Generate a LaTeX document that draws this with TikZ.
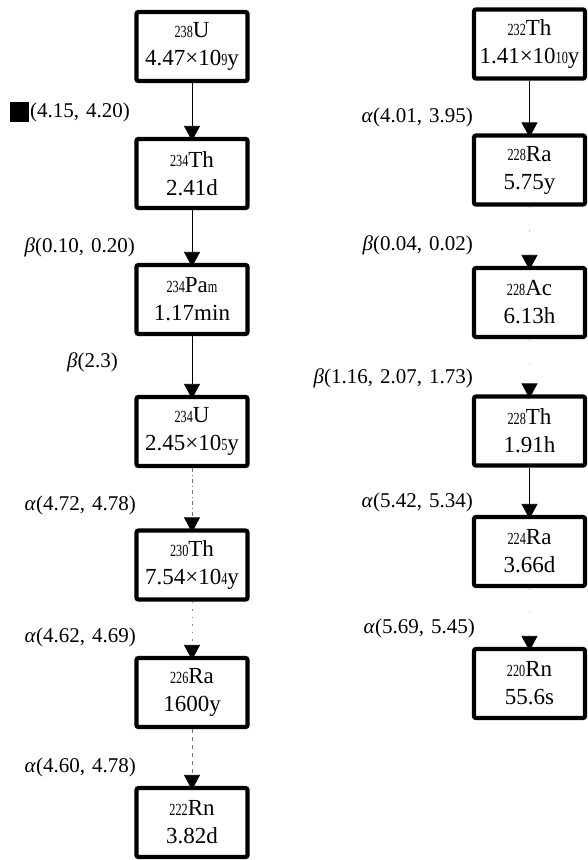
\documentclass[tikz,border=0pt]{standalone}
\usepackage{fontspec}
\usepackage{graphicx}
\setmainfont{Liberation Serif}
\usetikzlibrary{arrows.meta}

% small mass numbers / exponents set on the baseline
\newcommand\isonum[1]{\raisebox{0.5pt}{\scalebox{0.72}[1]{\fontsize{17}{17}\selectfont #1}}}
\newcommand\gap{\hspace{7pt}}

\tikzset{
  nuclide/.style={draw=black, line width=4.2pt, rounded corners=2pt,
    minimum width=111pt, minimum height=69pt, align=center, inner sep=0pt,
    font=\fontsize{23}{28}\selectfont},
  decay/.style={anchor=east, inner sep=0pt, font=\fontsize{21}{21}\selectfont},
  chain/.style={line width=0.8pt, shorten >=-4pt,
    -{Triangle[width=16pt,length=15pt,black]}},
  faintA/.style={draw=black!55, dash pattern=on 4pt off 3pt on 1pt off 3pt},
  faintB/.style={draw=black!45, dash pattern=on 1.5pt off 6pt},
  faintC/.style={draw=black!55, dash pattern=on 4pt off 4pt},
  faintD/.style={draw=black!25, dash pattern=on 1.5pt off 22pt},
}

\begin{document}
\begin{tikzpicture}[x=1pt, y=-1pt]
\useasboundingbox (0,0) rectangle (587,860);

% uranium series
\node[nuclide] (u238)  at (192,46.5)  {\isonum{238}U\\4.47×10\isonum{9}y};
\node[nuclide] (th234) at (192,173.5) {\isonum{234}Th\\2.41d};
\node[nuclide] (pa234) at (192,299.5) {\isonum{234}Pa\isonum{m}\\1.17min};
\node[nuclide] (u234)  at (192,431.5) {\isonum{234}U\\2.45×10\isonum{5}y};
\node[nuclide] (th230) at (192,565)   {\isonum{230}Th\\7.54×10\isonum{4}y};
\node[nuclide] (ra226) at (192,692.5) {\isonum{226}Ra\\1600y};
\node[nuclide] (rn222) at (192,822.5) {\isonum{222}Rn\\3.82d};

% thorium series
\node[nuclide] (th232) at (529.5,44)    {\isonum{232}Th\\1.41×10\isonum{10}y};
\node[nuclide] (ra228) at (529.5,170)   {\isonum{228}Ra\\5.75y};
\node[nuclide] (ac228) at (529.5,302.5) {\isonum{228}Ac\\6.13h};
\node[nuclide] (th228) at (529.5,431)   {\isonum{228}Th\\1.91h};
\node[nuclide] (ra224) at (529.5,551.5) {\isonum{224}Ra\\3.66d};
\node[nuclide] (rn220) at (529.5,683.5) {\isonum{220}Rn\\55.6s};

% decay steps
\draw[chain] (u238)  -- (th234);
\draw[chain] (th234) -- (pa234);
\draw[chain] (pa234) -- (u234);
\draw[chain, faintA] (u234)  -- (th230);
\draw[chain, faintB] (th230) -- (ra226);
\draw[chain, faintC] (ra226) -- (rn222);

\draw[chain] (th232) -- (ra228);
\draw[chain, faintD] (ra228) -- (ac228);
\draw[chain, faintD] (ac228) -- (th228);
\draw[chain] (th228) -- (ra224);
\draw[chain, faintD] (ra224) -- (rn220);

% decay modes and energies (MeV)
\node[decay] (l1) at (130,112) {(4.15,\gap4.20)};
\fill[black] (l1.west) ++(-1,-10) rectangle ++(-19,20);
\node[decay] (l2) at (135,247) {\textit{β}(0.10,\gap0.20)};
\node[decay] (l3) at (118,362) {\textit{β}(2.3)};
\node[decay] (l4) at (136,505) {\textit{α}(4.72,\gap4.78)};
\node[decay] (l5) at (136,637) {\textit{α}(4.62,\gap4.69)};
\node[decay] (l6) at (136,767) {\textit{α}(4.60,\gap4.78)};

\node[decay] (r1) at (473,117) {\textit{α}(4.01,\gap3.95)};
\node[decay] (r2) at (473,245) {\textit{β}(0.04,\gap0.02)};
\node[decay] (r3) at (473,378) {\textit{β}(1.16,\gap2.07,\gap1.73)};
\node[decay] (r4) at (473,502) {\textit{α}(5.42,\gap5.34)};
\node[decay] (r5) at (475,628) {\textit{α}(5.69,\gap5.45)};
\end{tikzpicture}
\end{document}
